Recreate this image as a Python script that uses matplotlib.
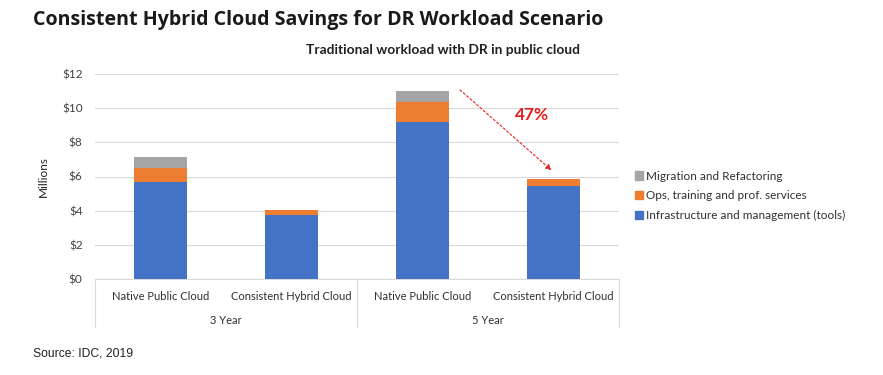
import matplotlib.pyplot as plt
from matplotlib.patches import Patch
import matplotlib.transforms as mtransforms

# data (millions of dollars)
scenarios = ['Native Public Cloud', 'Consistent Hybrid Cloud',
             'Native Public Cloud', 'Consistent Hybrid Cloud']
periods = ['3 Year', '5 Year']
infra = [5.65, 3.77, 9.2, 5.45]
ops = [0.85, 0.27, 1.15, 0.38]
migration = [0.62, 0.0, 0.65, 0.0]
yticks = [0, 2, 4, 6, 8, 10, 12]

c_infra = '#4472C4'
c_ops = '#ED7D31'
c_mig = '#A5A5A5'

plt.rcParams['font.family'] = ['Lato', 'DejaVu Sans']

fig = plt.figure(figsize=(8.83, 3.75), dpi=100)
ax = fig.add_axes([95/883, 1-279/375, 524/883, 205/375])

x = list(range(len(scenarios)))
w = 0.4
ax.bar(x, infra, w, color=c_infra, zorder=3)
ax.bar(x, ops, w, bottom=infra, color=c_ops, zorder=3)
bot2 = [a + b for a, b in zip(infra, ops)]
ax.bar(x, migration, w, bottom=bot2, color=c_mig, zorder=3)

ax.set_xlim(-0.5, 3.5)
ax.set_ylim(0, 12)
ax.set_yticks(yticks)
ax.set_yticklabels(['${}'.format(t) for t in yticks], fontsize=8.5, color='#404040')
ax.yaxis.grid(True, color='#D9D9D9', lw=0.8, zorder=0)
ax.tick_params(axis='y', length=0, pad=9)
ax.set_xticks([])
for s in ['top', 'right', 'left']:
    ax.spines[s].set_visible(False)
ax.spines['bottom'].set_color('#D9D9D9')
ax.set_ylabel('Millions', fontsize=8.5, color='#202020', labelpad=9)

# two-level category axis
tr = mtransforms.blended_transform_factory(ax.transData, ax.transAxes)
for i, lab in enumerate(scenarios):
    ax.text(i, -0.085, lab, transform=tr, ha='center', va='center', fontsize=8, color='#303030')
for j, p in enumerate(periods):
    ax.text(2*j + 0.5, -0.2, p, transform=tr, ha='center', va='center', fontsize=8, color='#303030')
for xs in [-0.5, 1.5, 3.5]:
    ax.plot([xs, xs], [0, -0.235], transform=tr, color='#D9D9D9', lw=0.8, clip_on=False)

# savings arrow
ax.annotate('', xy=(3.0, 6.26), xytext=(2.27, 11.18),
            arrowprops=dict(arrowstyle='-|>', color='#E0201E', ls=(0, (2, 2)), lw=0.8,
                            mutation_scale=8))
ax.text(2.84, 9.6, '47%', color='#E0201E', fontsize=12.5, fontweight='bold',
        ha='center', va='center')

handles = [Patch(color=c_mig, label='Migration and Refactoring'),
           Patch(color=c_ops, label='Ops, training and prof. services'),
           Patch(color=c_infra, label='Infrastructure and management (tools)')]
fig.legend(handles=handles, loc='center left', bbox_to_anchor=(624/883, 1-196/375),
           frameon=False, fontsize=8.5, handlelength=0.7, handleheight=0.7,
           handletextpad=0.3, labelspacing=0.75, labelcolor='#303030')

fig.text(33/883, 1-20/375, 'Consistent Hybrid Cloud Savings for DR Workload Scenario',
         fontsize=14.1, fontweight='bold', family=['Open Sans', 'DejaVu Sans'],
         ha='left', va='center', color='#1a1a1a')
fig.text(443/883, 1-50/375, 'Traditional workload with DR in public cloud',
         fontsize=9.9, fontweight='bold', ha='center', va='center', color='#202020')
fig.text(33/883, 1-354/375, 'Source: IDC, 2019', fontsize=8.7,
         family=['Liberation Sans', 'DejaVu Sans'], ha='left', va='center', color='#202020')

plt.savefig('out.png', dpi=100)
